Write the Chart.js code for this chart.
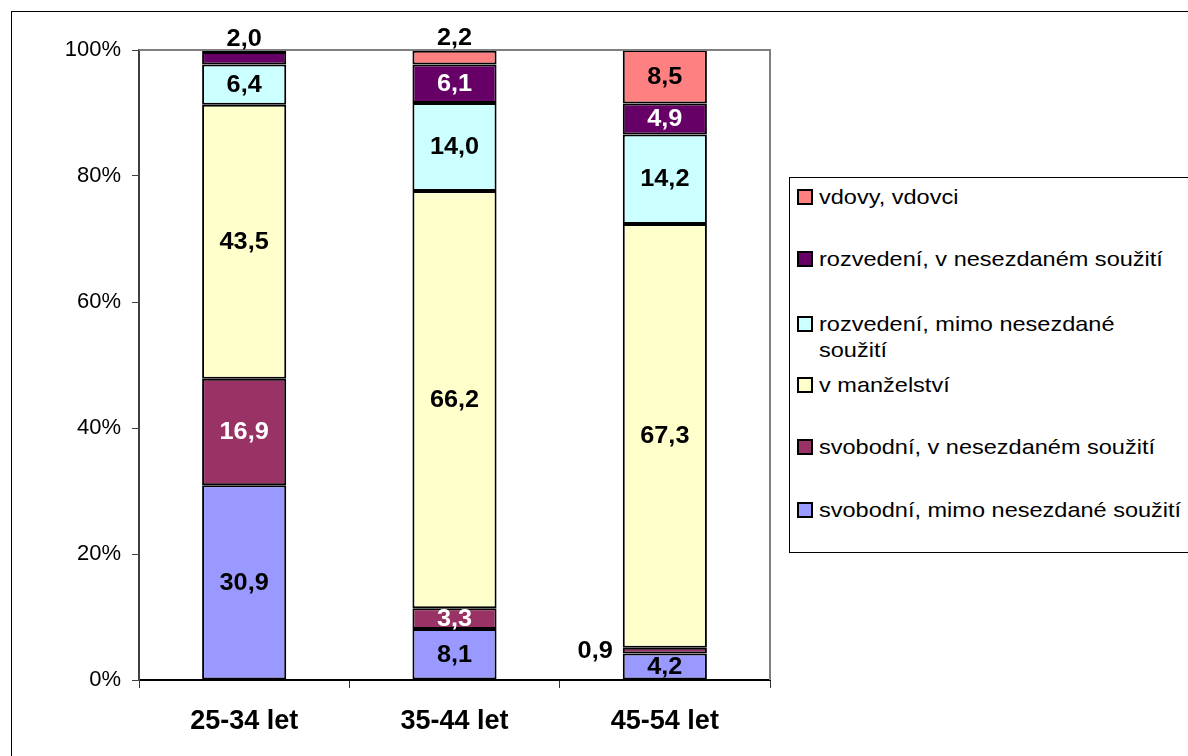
<!DOCTYPE html>
<html>
<head>
<meta charset="utf-8">
<script src="https://cdn.jsdelivr.net/npm/chart.js@4"></script>
<style>
  body { margin:0; background:#fff; }
  #wrap { position:relative; width:1188px; height:756px; overflow:hidden; }
  #frame { position:absolute; left:11px; top:11px; width:1200px; height:760px; border:1px solid #000; }
  canvas { position:absolute; left:0; top:0; }
  #legend { position:absolute; left:789px; top:177px; width:420px; height:374px; border:1px solid #000; background:#fff;
            font-family: Arial, "Liberation Sans", sans-serif; font-size:21px; color:#000; }
  .item { position:absolute; left:7px; width:360px; line-height:26px; padding-left:22px; }
  .txt { display:inline-block; transform:scaleX(1.12); transform-origin:left center; white-space:nowrap; }
  .box { position:absolute; left:0; top:5px; width:12px; height:12px; border:2px solid #000; }
</style>
</head>
<body>
<div id="wrap">
  <div id="frame"></div>
  <canvas id="c" width="1188" height="756"></canvas>
  <div id="legend"></div>
</div>
<script>
const ageGroups = ['25-34 let', '35-44 let', '45-54 let'];

// bottom to top
const seriesNames = [
  'svobodní, mimo nesezdané soužití',
  'svobodní, v nesezdaném soužití',
  'v manželství',
  'rozvedení, mimo nesezdané soužití',
  'rozvedení, v nesezdaném soužití',
  'vdovy, vdovci'
];
const svobodniMimo = [30.9, 8.1, 4.2];
const svobodniV = [16.9, 3.3, 0.9];
const manzelstvi = [43.5, 66.2, 67.3];
const rozvedeniMimo = [6.4, 14.0, 14.2];
const rozvedeniV = [2.0, 6.1, 4.9];
const vdovy = [0.3, 2.2, 8.5];

const yTicks = [0, 20, 40, 60, 80, 100];

const colors = ['#9999FF', '#993366', '#FFFFCC', '#CCFFFF', '#660066', '#FF8080'];
const textColors = ['#000', '#fff', '#000', '#000', '#fff', '#000'];
// where each label goes: in / top / left / none
const labelPlace = [
  ['in', 'in', 'in'],
  ['in', 'in', 'left'],
  ['in', 'in', 'in'],
  ['in', 'in', 'in'],
  ['top', 'in', 'in'],
  ['none', 'top', 'in']
];

const allValues = [svobodniMimo, svobodniV, manzelstvi, rozvedeniMimo, rozvedeniV, vdovy];
const FONT = 'Arial, "Liberation Sans", sans-serif';

const datasets = allValues.map((vals, i) => ({
  label: seriesNames[i],
  data: vals,
  backgroundColor: colors[i],
  borderColor: '#000',
  borderWidth: 2,
  borderSkipped: false,
  categoryPercentage: 1,
  barPercentage: 0.4
}));

const labelPlugin = {
  id: 'labels',
  afterDatasetsDraw(chart) {
    const ctx = chart.ctx;
    const a = chart.chartArea;
    // gray plot border top + right
    ctx.save();
    ctx.strokeStyle = '#808080';
    ctx.lineWidth = 2;
    ctx.beginPath();
    ctx.moveTo(a.left, a.top);
    ctx.lineTo(a.right, a.top);
    ctx.lineTo(a.right, a.bottom);
    ctx.stroke();
    ctx.restore();

    ctx.save();
    ctx.font = 'bold 23px ' + FONT;
    ctx.textBaseline = 'middle';
    chart.data.datasets.forEach((ds, i) => {
      const meta = chart.getDatasetMeta(i);
      meta.data.forEach((bar, j) => {
        const place = labelPlace[i][j];
        if (place === 'none') return;
        const txt = ds.data[j].toFixed(1).replace('.', ',');
        const cy = (bar.y + bar.base) / 2;
        let x = bar.x, y = cy, col = textColors[i];
        ctx.textAlign = 'center';
        if (place === 'top') { y = bar.y - 13; col = '#000'; }
        if (place === 'left') { x = bar.x - bar.width / 2 - 10; ctx.textAlign = 'right'; col = '#000'; }
        ctx.fillStyle = col;
        ctx.save();
        ctx.translate(x, y + 1);
        ctx.scale(1.1, 1);
        ctx.fillText(txt, 0, 0);
        ctx.restore();
      });
    });
    ctx.restore();
  }
};

const chart = new Chart(document.getElementById('c'), {
  type: 'bar',
  data: { labels: ageGroups, datasets: datasets },
  options: {
    responsive: false,
    animation: false,
    layout: { padding: { left: 0, top: 50, right: 418, bottom: 0 } },
    plugins: { legend: { display: false }, tooltip: { enabled: false } },
    scales: {
      x: {
        stacked: true,
        afterFit(s) { s.height = 76; },
        border: { color: '#000', width: 2 },
        grid: { drawOnChartArea: false, tickLength: 8, color: '#333', offset: true },
        ticks: { color: '#000', padding: 17, font: { family: FONT, size: 27, weight: 'bold' } }
      },
      y: {
        stacked: true,
        min: 0, max: 100,
        afterFit(s) { s.width = 139; },
        afterBuildTicks(s) { s.ticks = yTicks.map(v => ({ value: v })); },
        border: { color: '#404040', width: 2 },
        grid: { drawOnChartArea: false, tickLength: 7, color: '#404040' },
        ticks: { color: '#000', padding: 11, font: { family: FONT, size: 22 }, callback: v => v + '%' }
      }
    }
  },
  plugins: [labelPlugin]
});

// legend, top item first
const legend = document.getElementById('legend');
const legendTops = [6, 68, 133, 194, 256, 319];
chart.data.datasets.slice().reverse().forEach((ds, k) => {
  const it = document.createElement('div');
  it.className = 'item';
  it.style.top = legendTops[k] + 'px';
  const t = document.createElement('span');
  t.className = 'txt';
  if (ds.label === 'rozvedení, mimo nesezdané soužití') {
    t.innerHTML = 'rozvedení, mimo nesezdané<br>soužití';
  } else {
    t.textContent = ds.label;
  }
  it.appendChild(t);
  const b = document.createElement('span');
  b.className = 'box';
  b.style.background = ds.backgroundColor;
  it.appendChild(b);
  legend.appendChild(it);
});
</script>
</body>
</html>
